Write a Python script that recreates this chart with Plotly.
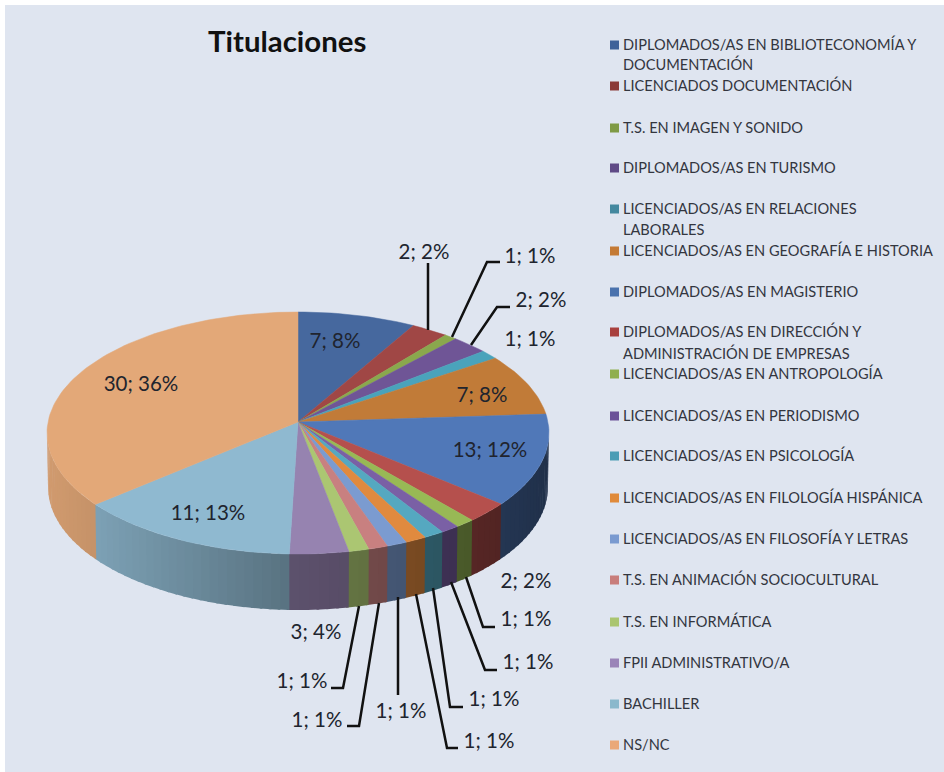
import math
import plotly.graph_objects as go

# ---- data ----
categories = [
    "DIPLOMADOS/AS EN BIBLIOTECONOMÍA Y<br>DOCUMENTACIÓN", "LICENCIADOS DOCUMENTACIÓN",
    "T.S. EN IMAGEN Y SONIDO", "DIPLOMADOS/AS EN TURISMO",
    "LICENCIADOS/AS EN RELACIONES<br>LABORALES", "LICENCIADOS/AS EN GEOGRAFÍA E HISTORIA",
    "DIPLOMADOS/AS EN MAGISTERIO", "DIPLOMADOS/AS EN DIRECCIÓN Y<br>ADMINISTRACIÓN DE EMPRESAS",
    "LICENCIADOS/AS EN ANTROPOLOGÍA", "LICENCIADOS/AS EN PERIODISMO",
    "LICENCIADOS/AS EN PSICOLOGÍA", "LICENCIADOS/AS EN FILOLOGÍA HISPÁNICA",
    "LICENCIADOS/AS EN FILOSOFÍA Y LETRAS", "T.S. EN ANIMACIÓN SOCIOCULTURAL",
    "T.S. EN INFORMÁTICA", "FPII ADMINISTRATIVO/A", "BACHILLER", "NS/NC",
]
counts = [7, 2, 1, 2, 1, 7, 13, 2, 1, 1, 1, 1, 1, 1, 1, 3, 11, 30]
percents = [8, 2, 1, 2, 1, 8, 12, 2, 1, 1, 1, 1, 1, 1, 1, 4, 13, 36]
# size of each slice as drawn, share of the full turn (%)
drawn_shares = [7.6, 2.4, 0.8, 2.4, 1.2, 8.1, 12.5, 2.8, 1.25, 1.2, 1.3, 1.35, 1.3, 1.25, 1.3, 3.8, 14.4, 35.05]

# ---- styles and layout positions ----
top_colors = ["#46689e", "#a04745", "#8aa84d", "#6f5596", "#4aa3bb", "#c17b38",
              "#5078b8", "#b5504d", "#98b955", "#7a60a5", "#55a8c0", "#e08a3f",
              "#7b9bd0", "#c88080", "#abc672", "#9683b0", "#8fb9d0", "#e3a878"]
legend_colors = ["#3f6299", "#8b3a38", "#7f9a45", "#5f4a86", "#44889f", "#c47a35",
                 "#4a72ad", "#a8403e", "#8faf4e", "#6b5199", "#4b9db5", "#e08a3a",
                 "#7a9ad0", "#c87d7b", "#aac570", "#9a84b8", "#8ab8cc", "#eaa878"]
legend_y = [[45, 65], [86], [128], [168], [209, 230], [251], [292], [332, 354], [374],
            [416], [456], [498], [539], [580], [622], [663], [704], [745]]
label_xy = [(335, 343), (424, 254), (530, 258), (541, 302), (530, 341), (482, 397), (490, 452),
            (526, 583), (526, 621), (528, 664), (494, 701), (489, 743), (401, 713), (317, 722),
            (302, 683), (316, 634), (208, 515), (141, 386)]
leaders = [
    [(428, 330), (428, 263)],
    [(452, 337), (487, 262), (500, 262)],
    [(471, 345), (497, 307), (510, 307)],
    [(466, 577), (483, 627), (495, 627)],
    [(451, 582), (485, 670), (497, 670)],
    [(433, 588), (450, 707), (463, 707)],
    [(416, 594), (447, 748), (458, 748)],
    [(398, 597), (398, 695)],
    [(379, 603), (359, 726), (347, 726)],
    [(359, 606), (343, 688), (331, 688)],
]
CX, CY_TOP, RX, RY = 298, 433, 251, 121
APEX_Y = 422
CY_BOT, RX_B, RY_B = 487, 250, 123
FONT = "Lato, Carlito, sans-serif"


def top_pt(deg):
    t = math.radians(deg)
    return CX + RX * math.sin(t), CY_TOP - RY * math.cos(t)


def bot_pt(deg):
    t = math.radians(deg)
    return CX + RX_B * math.sin(t), CY_BOT - RY_B * math.cos(t)


def shade(hex_color, f):
    r, g, b = (int(hex_color[i:i + 2], 16) for i in (1, 3, 5))
    return f"rgb({r * f:.0f},{g * f:.0f},{b * f:.0f})"


def wall_factor(x):
    stops = [(47, 0.92), (95, 0.87), (288, 0.62), (400, 0.55), (500, 0.45), (549, 0.40)]
    for (x0, f0), (x1, f1) in zip(stops, stops[1:]):
        if x <= x1:
            return f0 + (f1 - f0) * (x - x0) / (x1 - x0)
    return stops[-1][1]


fig = go.Figure()

# slice edges in degrees, clockwise from twelve o'clock
total = sum(drawn_shares)
edges = [0.0]
for s in drawn_shares:
    edges.append(edges[-1] + 360 * s / total)

# walls (each strip overlaps the next one slightly so no seams show)
for i, col in enumerate(top_colors):
    a0, a1 = max(edges[i], 90), min(edges[i + 1], 270)
    if a1 <= a0:
        continue
    n = max(1, int((a1 - a0) / 2))
    for k in range(n):
        d0 = a0 + (a1 - a0) * k / n
        d1 = a0 + (a1 - a0) * (k + 1) / n
        e = d1 + 0.6
        p = [top_pt(d0), top_pt((d0 + e) / 2), top_pt(e), bot_pt(e), bot_pt((d0 + e) / 2), bot_pt(d0), top_pt(d0)]
        c = shade(col, wall_factor(top_pt((d0 + d1) / 2)[0]))
        fig.add_trace(go.Scatter(x=[q[0] for q in p], y=[q[1] for q in p], mode="lines",
                                 fill="toself", fillcolor=c, line=dict(width=0),
                                 hoverinfo="skip", showlegend=False))

# top faces
for i, col in enumerate(top_colors):
    steps = max(2, int((edges[i + 1] - edges[i]) / 1.5))
    pts = [top_pt(edges[i] + (edges[i + 1] - edges[i]) * k / steps) for k in range(steps + 1)]
    xs = [CX] + [q[0] for q in pts] + [CX]
    ys = [APEX_Y] + [q[1] for q in pts] + [APEX_Y]
    fig.add_trace(go.Scatter(x=xs, y=ys, mode="lines", fill="toself", fillcolor=col,
                             line=dict(color=col, width=0.5), name=categories[i].replace("<br>", " "),
                             text=f"{counts[i]}; {percents[i]}%", hoverinfo="name+text",
                             showlegend=False))

# leader lines
for path in leaders:
    fig.add_trace(go.Scatter(x=[q[0] for q in path], y=[q[1] for q in path], mode="lines",
                             line=dict(color="#111111", width=2.5), hoverinfo="skip", showlegend=False))

# data labels
fig.add_trace(go.Scatter(x=[q[0] for q in label_xy], y=[q[1] for q in label_xy], mode="text",
                         text=[f"{c}; {p}%" for c, p in zip(counts, percents)],
                         textposition="middle center",
                         textfont=dict(family=FONT, size=20.5, color="#20242e"),
                         hoverinfo="skip", showlegend=False))

# legend
fig.add_trace(go.Scatter(x=[614.5] * len(categories), y=[r[0] for r in legend_y], mode="markers",
                         marker=dict(symbol="square", size=9, color=legend_colors),
                         hoverinfo="skip", showlegend=False))
ann = []
for cat, rows in zip(categories, legend_y):
    for line, y in zip(cat.split("<br>"), rows):
        ann.append(dict(x=620.5, y=y - 1, xref="x", yref="y", text=line, showarrow=False, xanchor="left",
                        yanchor="middle", font=dict(family=FONT, size=14.6, color="#33363f")))
ann.append(dict(x=287, y=40, xref="x", yref="y", text="<b>Titulaciones</b>", showarrow=False,
                font=dict(family=FONT, size=29.4, color="#111111")))

fig.update_layout(
    width=944, height=772, margin=dict(l=0, r=0, t=0, b=0), showlegend=False,
    paper_bgcolor="white", plot_bgcolor="white", annotations=ann,
    xaxis=dict(range=[0, 944], visible=False, fixedrange=True),
    yaxis=dict(range=[772, 0], visible=False, fixedrange=True),
    shapes=[dict(type="rect", xref="x", yref="y", x0=5, x1=944, y0=5, y1=772,
                 fillcolor="#dfe5f0", line_width=0, layer="below")],
)
fig.write_html("out.html", config={"displayModeBar": False},
               post_script="document.body.style.margin='0';document.documentElement.style.overflow='hidden';")
